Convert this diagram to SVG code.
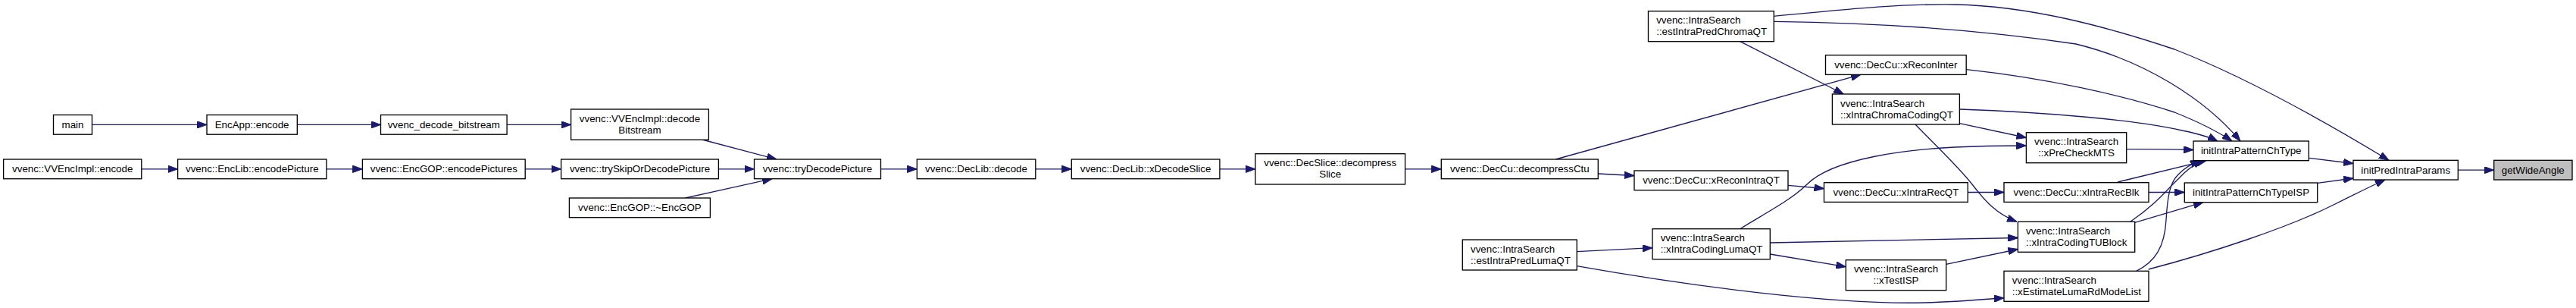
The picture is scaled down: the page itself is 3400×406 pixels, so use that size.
<svg xmlns="http://www.w3.org/2000/svg" width="3400" height="406" viewBox="0 0 3400 406">
<defs>
<marker id="ah" viewBox="0 0 13 9.4" refX="13" refY="4.7" markerWidth="13" markerHeight="9.4" markerUnits="userSpaceOnUse" orient="auto">
<path d="M0,0 L13,4.7 L0,9.4 z" fill="#191970" stroke="#191970" stroke-width="1"/>
</marker>
</defs>
<style>
.n rect{fill:#fff;stroke:#000;stroke-width:1.33}
.g rect{fill:#bfbfbf}
text{font-family:"Liberation Sans",Arial,Helvetica,sans-serif;font-size:13.33px;fill:#000}
.c{text-anchor:middle}
.l{text-anchor:start}
#edges path{fill:none;stroke:#191970;stroke-width:1.33;marker-end:url(#ah)}
</style>
<rect width="3400" height="406" fill="#fff"/>
<g id="edges">
<path d="M121.5,164.4 L273,164.4"/>
<path d="M392.3,164.4 L502.5,164.4"/>
<path d="M669.1,164.4 L753.6,164.4"/>
<path d="M186.8,222.85 L234.6,222.85"/>
<path d="M430.9,222.85 L478.4,222.85"/>
<path d="M693.2,222.85 L740.6,222.85"/>
<path d="M948.4,222.85 L995.5,222.85"/>
<path d="M926.6,184 L1025,210"/>
<path d="M904.4,261 L1019,235.7"/>
<path d="M1162.5,222.85 L1210.3,222.85"/>
<path d="M1366.8,222.85 L1414.3,222.85"/>
<path d="M1609.9,222.85 L1656.9,222.85"/>
<path d="M1854.6,222.85 L1902.3,222.85"/>
<path d="M2053.3,210 L2456,98.4"/>
<path d="M2109.3,229 L2157,231.5"/>
<path d="M2360,244.3 L2407.5,248.5"/>
<path d="M2597.3,253.5 L2645,253.5"/>
<path d="M2081.3,331.7 L2181,326.7"/>
<path d="M2081.3,350.7 C2230,377 2420,402 2540,399 C2580,398 2615,395 2645,392.7"/>
<path d="M2296.7,301.7 C2330,281 2365,263 2385,243 C2420,208 2520,197 2580,194 C2620,192 2650,192 2674.4,192"/>
<path d="M2336.3,320 C2450,318 2560,315 2663.4,313.5"/>
<path d="M2336.3,335 L2436.3,351.7"/>
<path d="M2568.7,348.3 L2663.4,328.5"/>
<path d="M2296.7,54.7 L2433.3,124"/>
<path d="M2586.4,162.7 L2674.4,181.5"/>
<path d="M2528,164 C2555,192 2585,220 2603,243 C2620,265 2635,282 2662,292.3"/>
<path d="M2341.3,21.3 C2430,13 2500,5 2580,6 C2680,8 2780,35 2870,65 C2960,100 3060,155 3153,211.3"/>
<path d="M2341.3,28.3 C2480,30 2620,40 2740,58 C2830,80 2910,130 2957,186"/>
<path d="M2595.3,91.7 C2700,103 2800,125 2870,148 C2900,160 2925,172 2946,186"/>
<path d="M2586.5,144 C2700,148 2820,158 2880,172 C2900,176 2915,180 2927,186"/>
<path d="M2806.7,196.7 C2840,196.5 2870,197 2895,197.5"/>
<path d="M2795,240 L2912,211.7"/>
<path d="M2836,253.5 L2883.3,253.5"/>
<path d="M2811.7,292.3 C2845,270 2860,250 2875,236 C2885,225 2895,217 2908,211.7"/>
<path d="M2817.7,293.3 L2908,266.7"/>
<path d="M2819.6,357.3 C2845,345 2857,325 2859,290 C2861,255 2865,240 2875,230 C2885,220 2895,215 2904,211.7"/>
<path d="M2835.7,355 C2920,333 3020,300 3080,270 C3110,255 3130,245 3148,237"/>
<path d="M3047.3,208.3 L3106,215.5"/>
<path d="M3058.7,241.3 L3106,235"/>
<path d="M3244.3,224.2 L3291.7,224.2"/>
</g>
<g id="main" class="n"><rect x="70.5" y="151.5" width="51" height="25.7"/><text class="c" x="96" y="168.8">main</text></g>
<g id="encapp_encode" class="n"><rect x="273" y="151.5" width="119.3" height="25.7"/><text class="c" x="332.6" y="168.8">EncApp::encode</text></g>
<g id="vvenc_decode_bitstream" class="n"><rect x="502.5" y="151.5" width="166.6" height="25.7"/><text class="c" x="585.8" y="168.8">vvenc_decode_bitstream</text></g>
<g id="vvencimpl_decodebitstream" class="n"><rect x="753.6" y="144" width="181.8" height="40.3"/><text class="c" x="844.5" y="160.8">vvenc::VVEncImpl::decode</text><text class="c" x="844.5" y="175.8">Bitstream</text></g>
<g id="vvencimpl_encode" class="n"><rect x="4.6" y="210" width="182.2" height="25.7"/><text class="c" x="95.7" y="227.3">vvenc::VVEncImpl::encode</text></g>
<g id="enclib_encodepicture" class="n"><rect x="234.6" y="210" width="196.3" height="25.7"/><text class="c" x="332.8" y="227.3">vvenc::EncLib::encodePicture</text></g>
<g id="encgop_encodepictures" class="n"><rect x="478.4" y="210" width="214.8" height="25.7"/><text class="c" x="585.8" y="227.3">vvenc::EncGOP::encodePictures</text></g>
<g id="tryskipordecodepicture" class="n"><rect x="740.6" y="210" width="207.8" height="25.7"/><text class="c" x="844.5" y="227.3">vvenc::trySkipOrDecodePicture</text></g>
<g id="encgop_dtor" class="n"><rect x="751.4" y="261" width="186" height="25.7"/><text class="c" x="844.4" y="278.3">vvenc::EncGOP::~EncGOP</text></g>
<g id="trydecodepicture" class="n"><rect x="995.5" y="210" width="167" height="25.7"/><text class="c" x="1079" y="227.3">vvenc::tryDecodePicture</text></g>
<g id="declib_decode" class="n"><rect x="1210.3" y="210" width="156.5" height="25.7"/><text class="c" x="1288.5" y="227.3">vvenc::DecLib::decode</text></g>
<g id="declib_xdecodeslice" class="n"><rect x="1414.3" y="210" width="195.6" height="25.7"/><text class="c" x="1512.1" y="227.3">vvenc::DecLib::xDecodeSlice</text></g>
<g id="decslice_decompressslice" class="n"><rect x="1656.9" y="202.7" width="197.7" height="40.3"/><text class="c" x="1755.7" y="219.4">vvenc::DecSlice::decompress</text><text class="c" x="1755.7" y="234.4">Slice</text></g>
<g id="deccu_decompressctu" class="n"><rect x="1902.3" y="210" width="207" height="25.7"/><text class="c" x="2005.8" y="227.3">vvenc::DecCu::decompressCtu</text></g>
<g id="estintrapredlumaqt" class="n"><rect x="1930.3" y="316" width="151" height="40"/><text class="l" x="1941" y="332.7">vvenc::IntraSearch</text><text class="l" x="1941" y="347.7">::estIntraPredLumaQT</text></g>
<g id="estintrapredchromaqt" class="n"><rect x="2175.5" y="14.7" width="165.8" height="40"/><text class="l" x="2186.2" y="31.4">vvenc::IntraSearch</text><text class="l" x="2186.2" y="46.4">::estIntraPredChromaQT</text></g>
<g id="deccu_xreconintraqt" class="n"><rect x="2157" y="225" width="203" height="25.7"/><text class="c" x="2258.5" y="242.3">vvenc::DecCu::xReconIntraQT</text></g>
<g id="xintracodinglumaqt" class="n"><rect x="2181" y="301.7" width="155.3" height="40"/><text class="l" x="2191.7" y="318.4">vvenc::IntraSearch</text><text class="l" x="2191.7" y="333.4">::xIntraCodingLumaQT</text></g>
<g id="deccu_xreconinter" class="n"><rect x="2409.5" y="72.7" width="185.7" height="25.7"/><text class="c" x="2502.3" y="90">vvenc::DecCu::xReconInter</text></g>
<g id="xintrachromacodingqt" class="n"><rect x="2418.4" y="124" width="168" height="40"/><text class="l" x="2429" y="140.7">vvenc::IntraSearch</text><text class="l" x="2429" y="155.7">::xIntraChromaCodingQT</text></g>
<g id="deccu_xintrarecqt" class="n"><rect x="2407.5" y="240.7" width="189.8" height="25.7"/><text class="c" x="2502.4" y="258">vvenc::DecCu::xIntraRecQT</text></g>
<g id="xtestisp" class="n"><rect x="2436.3" y="342.7" width="132.4" height="40"/><text class="c" x="2502.5" y="359.4">vvenc::IntraSearch</text><text class="c" x="2502.5" y="374.4">::xTestISP</text></g>
<g id="xprecheckmts" class="n"><rect x="2674.4" y="174.7" width="132.3" height="40"/><text class="c" x="2740.5" y="191.4">vvenc::IntraSearch</text><text class="c" x="2740.5" y="206.4">::xPreCheckMTS</text></g>
<g id="deccu_xintrarecblk" class="n"><rect x="2645" y="240.7" width="191" height="25.7"/><text class="c" x="2740.5" y="258">vvenc::DecCu::xIntraRecBlk</text></g>
<g id="xintracodingtublock" class="n"><rect x="2663.4" y="292.3" width="154.3" height="40"/><text class="l" x="2674" y="309">vvenc::IntraSearch</text><text class="l" x="2674" y="324">::xIntraCodingTUBlock</text></g>
<g id="xestimatelumardmodelist" class="n"><rect x="2645" y="357.3" width="191" height="40"/><text class="l" x="2655.7" y="374">vvenc::IntraSearch</text><text class="l" x="2655.7" y="389">::xEstimateLumaRdModeList</text></g>
<g id="initintrapatternchtype" class="n"><rect x="2895" y="186" width="152.3" height="25.7"/><text class="c" x="2971.2" y="203.3">initIntraPatternChType</text></g>
<g id="initintrapatternchtypeisp" class="n"><rect x="2883.3" y="241" width="175.4" height="25.7"/><text class="c" x="2971" y="258.3">initIntraPatternChTypeISP</text></g>
<g id="initpredintraparams" class="n"><rect x="3106" y="211.3" width="138.3" height="25.7"/><text class="c" x="3175.2" y="228.6">initPredIntraParams</text></g>
<g id="getwideangle" class="n g"><rect x="3291.7" y="211.3" width="103.3" height="25.7"/><text class="c" x="3343.3" y="228.6">getWideAngle</text></g>
</svg>
